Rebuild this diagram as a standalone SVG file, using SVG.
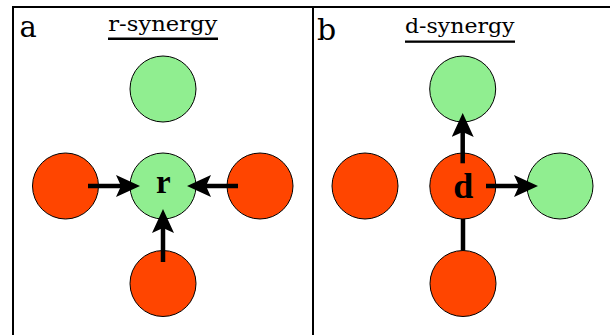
<svg xmlns="http://www.w3.org/2000/svg" width="610" height="335" viewBox="0 0 610 335">
  <style>
    .frame { fill: none; stroke: #000; stroke-width: 2; }
    .g { fill: #90EE90; stroke: #000; stroke-width: 1; }
    .o { fill: #FF4500; stroke: #000; stroke-width: 1; }
    .title { font-family: "DejaVu Serif", serif; font-size: 21px; fill: #000; }
    .panel { font-family: "DejaVu Serif", serif; font-size: 29px; fill: #000; }
    .lbl { font-family: "Liberation Serif", serif; font-weight: bold; fill: #000; text-anchor: middle; }
    .conn { stroke: #000; stroke-width: 4.5; fill: none; }
    .arr { marker-end: url(#head); }
  </style>
  <defs>
    <marker id="head" viewBox="0 -11 24 22" refX="5" refY="0" markerWidth="24" markerHeight="22" markerUnits="userSpaceOnUse" orient="auto">
      <path d="M24,0 L0,-11 L5,0 L0,11 Z" fill="#000"/>
    </marker>
  </defs>
  <rect width="610" height="335" fill="#fff"/>
  <g id="frame">
    <path class="frame" d="M13,335 V7 H610"/>
    <line class="frame" x1="313" y1="7" x2="313" y2="335"/>
  </g>
  <g id="titles">
    <text class="panel" x="19.5" y="36.7">a</text>
    <text class="title" x="108.3" y="31.3" textLength="109" lengthAdjust="spacingAndGlyphs">r-synergy</text>
    <rect x="108" y="37.5" width="110" height="2.5" fill="#000"/>
    <text class="panel" x="317" y="40" style="font-size:30px">b</text>
    <text class="title" x="405" y="33" textLength="109.5" lengthAdjust="spacingAndGlyphs">d-synergy</text>
    <rect x="405" y="40.5" width="110" height="2.3" fill="#000"/>
  </g>
  <g id="a-top"><circle class="g" cx="163" cy="89" r="33"/></g>
  <g id="a-left"><circle class="o" cx="65.5" cy="186" r="33"/></g>
  <g id="a-center"><circle class="g" cx="163" cy="186" r="33"/><text class="lbl" x="163.3" y="193.3" font-size="33">r</text></g>
  <g id="a-right"><circle class="o" cx="260" cy="186" r="33"/></g>
  <g id="a-bottom"><circle class="o" cx="163" cy="283.5" r="33"/></g>
  <g id="b-top"><circle class="g" cx="462.7" cy="89" r="33"/></g>
  <g id="b-left"><circle class="o" cx="365" cy="186" r="33"/></g>
  <g id="b-center"><circle class="o" cx="462.8" cy="186" r="33"/><text class="lbl" x="463.3" y="198.3" font-size="36">d</text></g>
  <g id="b-right"><circle class="g" cx="560" cy="186" r="33"/></g>
  <g id="b-bottom"><circle class="o" cx="463" cy="283.5" r="33"/></g>
  <g id="connectors">
    <line class="conn arr" x1="88" y1="186" x2="121" y2="186"/>
    <line class="conn arr" x1="238" y1="186" x2="206" y2="186"/>
    <line class="conn arr" x1="163" y1="262" x2="163" y2="228"/>
    <line class="conn arr" x1="462.7" y1="163.3" x2="462.7" y2="132"/>
    <line class="conn arr" x1="486" y1="186" x2="519" y2="186"/>
    <line class="conn" x1="463" y1="219" x2="463" y2="250.5"/>
  </g>
</svg>
